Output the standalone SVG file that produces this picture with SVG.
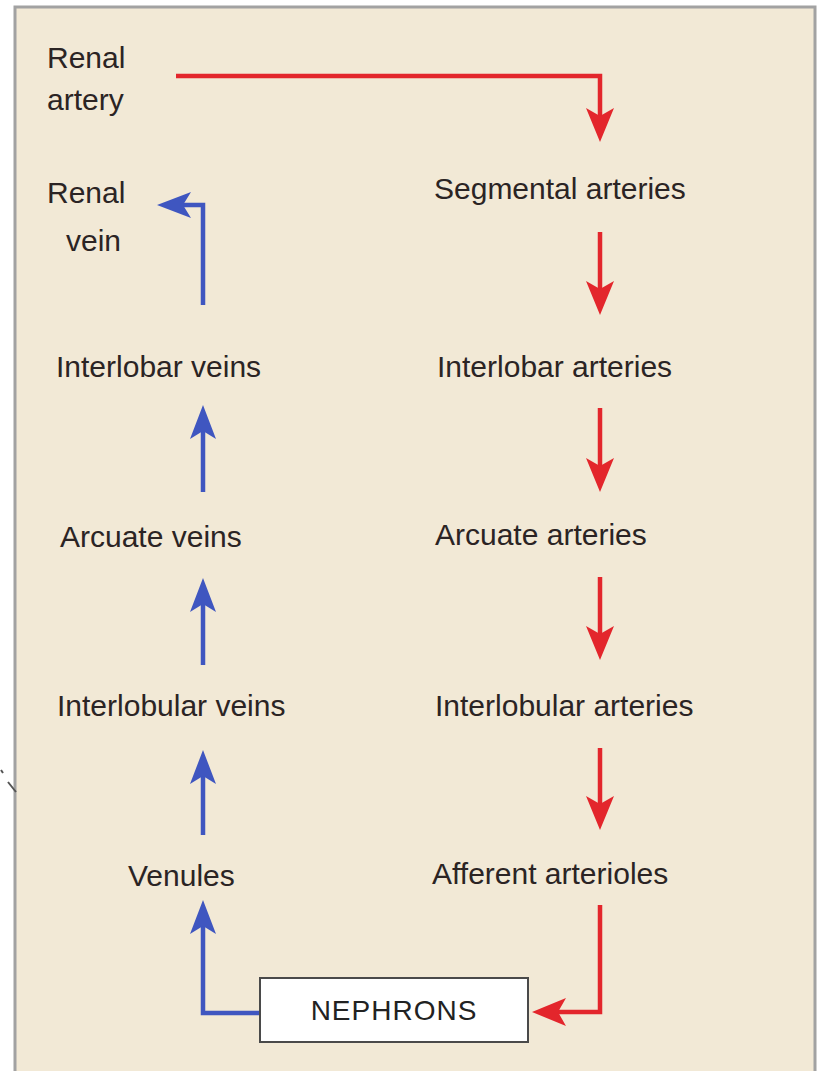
<svg xmlns="http://www.w3.org/2000/svg" width="823" height="1071" viewBox="0 0 823 1071">
<style>
.lbl{font-family:"Liberation Sans",Arial,sans-serif;font-size:30px;fill:#2b2424;}
.box{fill:#ffffff;stroke:#4a4a4a;stroke-width:2;}
.nep{font-family:"Liberation Sans",Arial,sans-serif;font-size:28px;fill:#222;letter-spacing:1px;}
.red{fill:none;stroke:#e3262c;stroke-width:4.5;stroke-linejoin:miter;marker-end:url(#ahR);}
.blue{fill:none;stroke:#3f56c0;stroke-width:4.5;stroke-linejoin:miter;marker-end:url(#ahB);}
</style>
<defs>
<marker id="ahR" markerUnits="userSpaceOnUse" markerWidth="40" markerHeight="32" refX="22" refY="0" orient="auto" overflow="visible">
<path d="M0,-14 L34,0 L0,14 L8,0 Z" fill="#e3262c"/>
</marker>
<marker id="ahB" markerUnits="userSpaceOnUse" markerWidth="40" markerHeight="32" refX="22" refY="0" orient="auto" overflow="visible">
<path d="M0,-13 L34,0 L0,13 L8,0 Z" fill="#3f56c0"/>
</marker>
</defs>
<rect x="0" y="0" width="823" height="1071" fill="#ffffff"/>
<rect x="15" y="7" width="800" height="1080" fill="#f2e9d6" stroke="#a2a2a2" stroke-width="3"/>
<path d="M1,770 L3,773 M8,782 L16,792" stroke="#555" stroke-width="2" fill="none"/>

<g id="connectors">
<path class="red" d="M176,76 H600 V130"/>
<path class="red" d="M600,232 V303"/>
<path class="red" d="M600,408 V480"/>
<path class="red" d="M600,577 V648"/>
<path class="red" d="M600,748 V818"/>
<path class="red" d="M600,905 V1012 H544"/>
<path class="blue" d="M260,1013 H203 V912"/>
<path class="blue" d="M203,835 V762"/>
<path class="blue" d="M203,665 V590"/>
<path class="blue" d="M203,492 V417"/>
<path class="blue" d="M203,305 V205 H169"/>
</g>

<g id="renal-artery"><text class="lbl" x="47" y="68">Renal</text><text class="lbl" x="47" y="110">artery</text></g>
<g id="renal-vein"><text class="lbl" x="47" y="203">Renal</text><text class="lbl" x="66" y="251">vein</text></g>
<g id="segmental-arteries"><text class="lbl" x="434" y="199">Segmental arteries</text></g>
<g id="interlobar-veins"><text class="lbl" x="56" y="377">Interlobar veins</text></g>
<g id="interlobar-arteries"><text class="lbl" x="437" y="377">Interlobar arteries</text></g>
<g id="arcuate-veins"><text class="lbl" x="60" y="547">Arcuate veins</text></g>
<g id="arcuate-arteries"><text class="lbl" x="435" y="545">Arcuate arteries</text></g>
<g id="interlobular-veins"><text class="lbl" x="57" y="716">Interlobular veins</text></g>
<g id="interlobular-arteries"><text class="lbl" x="435" y="716">Interlobular arteries</text></g>
<g id="venules"><text class="lbl" x="128" y="886">Venules</text></g>
<g id="afferent-arterioles"><text class="lbl" x="432" y="884">Afferent arterioles</text></g>
<g id="nephrons"><rect class="box" x="260" y="978" width="268" height="64"/><text class="nep" x="394" y="1020" text-anchor="middle">NEPHRONS</text></g>
</svg>
